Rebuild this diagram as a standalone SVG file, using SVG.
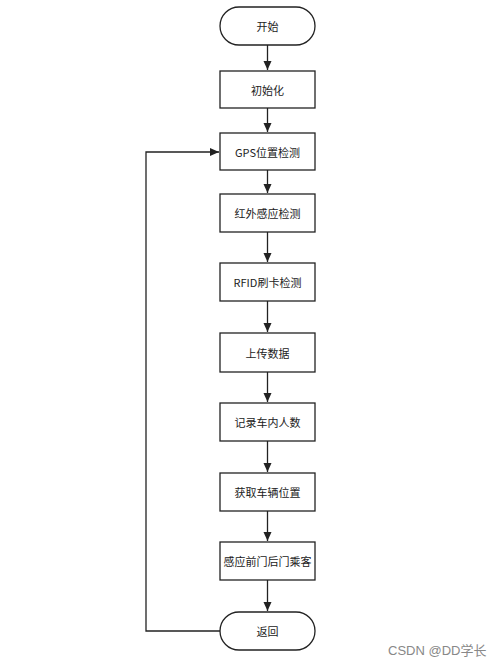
<svg xmlns="http://www.w3.org/2000/svg" width="499" height="665" viewBox="0 0 499 665">
<style>
.n{fill:#fff;stroke:#222;stroke-width:1.3}
.t{font-family:"Noto Sans CJK SC","Liberation Sans",sans-serif;font-size:11px;fill:#222;text-anchor:middle;dominant-baseline:central}
.c{fill:none;stroke:#222;stroke-width:1.3}
.w{font-family:"Liberation Sans","Noto Sans CJK SC",sans-serif;font-size:13px;fill:#888}
</style>
<defs>
<marker id="a" markerWidth="10" markerHeight="10" refX="9" refY="5" orient="auto" markerUnits="userSpaceOnUse">
<path d="M0,1 L9,5 L0,9 Z" fill="#222"/>
</marker>
</defs>
<rect width="499" height="665" fill="#fff"/>
<g id="connectors">
<line class="c" x1="267.5" y1="45" x2="267.5" y2="70" marker-end="url(#a)"/>
<line class="c" x1="267.5" y1="108" x2="267.5" y2="132" marker-end="url(#a)"/>
<line class="c" x1="267.5" y1="170" x2="267.5" y2="193" marker-end="url(#a)"/>
<line class="c" x1="267.5" y1="232" x2="267.5" y2="262" marker-end="url(#a)"/>
<line class="c" x1="267.5" y1="301" x2="267.5" y2="332" marker-end="url(#a)"/>
<line class="c" x1="267.5" y1="372" x2="267.5" y2="402" marker-end="url(#a)"/>
<line class="c" x1="267.5" y1="441" x2="267.5" y2="472" marker-end="url(#a)"/>
<line class="c" x1="267.5" y1="511" x2="267.5" y2="541" marker-end="url(#a)"/>
<line class="c" x1="267.5" y1="580" x2="267.5" y2="611" marker-end="url(#a)"/>
<polyline class="c" points="220,631 146,631 146,152 219,152" marker-end="url(#a)"/>
</g>
<g id="start"><rect class="n" x="220" y="7" width="95" height="38" rx="19"/><text class="t" x="267.5" y="26">开始</text></g>
<g id="init"><rect class="n" x="220" y="71" width="95" height="37"/><text class="t" x="267.5" y="89.5">初始化</text></g>
<g id="gps"><rect class="n" x="220" y="133" width="95" height="37"/><text class="t" x="267.5" y="151.5">GPS位置检测</text></g>
<g id="ir"><rect class="n" x="220" y="194" width="95" height="38"/><text class="t" x="267.5" y="213">红外感应检测</text></g>
<g id="rfid"><rect class="n" x="220" y="263" width="95" height="38"/><text class="t" x="267.5" y="282">RFID刷卡检测</text></g>
<g id="upload"><rect class="n" x="220" y="333" width="95" height="39"/><text class="t" x="267.5" y="352.5">上传数据</text></g>
<g id="count"><rect class="n" x="220" y="403" width="95" height="38"/><text class="t" x="267.5" y="422">记录车内人数</text></g>
<g id="pos"><rect class="n" x="220" y="473" width="95" height="38"/><text class="t" x="267.5" y="492">获取车辆位置</text></g>
<g id="door"><rect class="n" x="220" y="542" width="95" height="38"/><text class="t" x="267.5" y="561">感应前门后门乘客</text></g>
<g id="ret"><rect class="n" x="220" y="612" width="95" height="38" rx="19"/><text class="t" x="267.5" y="631">返回</text></g>
<text class="w" x="388" y="655">CSDN @DD学长</text>
</svg>
